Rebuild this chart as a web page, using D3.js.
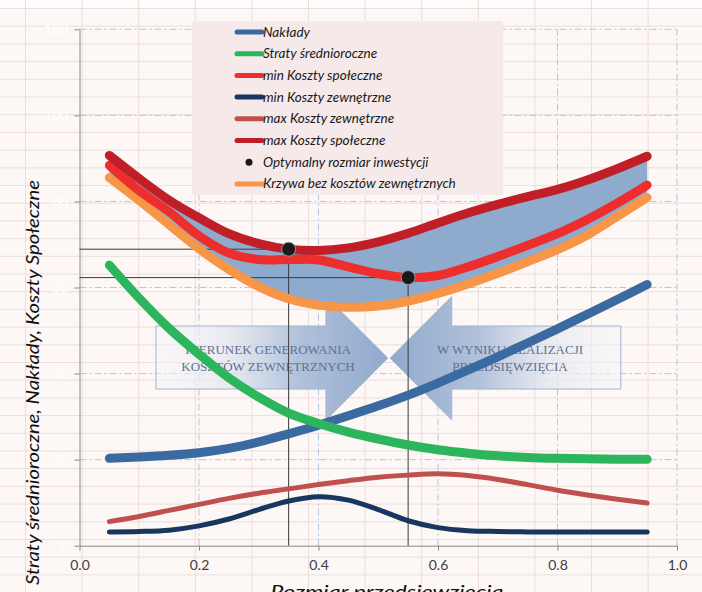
<!DOCTYPE html>
<html>
<head>
<meta charset="utf-8">
<script src="https://cdn.jsdelivr.net/npm/d3@7"></script>
<style>
body{margin:0;background:#fdf7f6;}
svg{display:block;}
</style>
</head>
<body>
<div id="chart"></div>
<script>
// rozmiar przedsiewziecia (x) i serie
var rozmiar=[0.05,0.1,0.15,0.2,0.25,0.3,0.35,0.4,0.45,0.5,0.55,0.6,0.65,0.7,0.75,0.8,0.85,0.9,0.95];
var naklady=[20.3,20.6,21.0,21.6,22.6,24.1,26.0,28.0,30.2,32.5,35.0,37.8,40.8,43.9,47.1,50.4,53.8,57.2,60.7];
var straty=[65.2,57.5,50.5,44.5,39.0,34.5,30.8,28.4,26.4,24.8,23.4,22.3,21.5,20.9,20.5,20.3,20.2,20.1,20.1];
var minSpol=[88.4,82.5,77.6,72.0,68.0,66.5,66.5,66.4,64.8,63.2,62.3,62.8,64.8,67.2,69.8,72.5,75.8,79.6,83.8];
var minZew=[3.2,3.3,3.6,4.6,6.2,8.4,10.4,11.4,10.6,8.4,5.8,4.2,3.5,3.3,3.2,3.2,3.2,3.2,3.2];
var maxZew=[5.6,6.8,8.2,9.6,11.0,12.2,13.2,14.2,15.1,15.9,16.4,16.7,16.3,15.4,14.2,12.9,11.8,10.8,9.9];
var maxSpol=[90.7,85.3,80.3,76.2,72.5,70.2,68.9,68.6,69.2,70.6,72.6,75.0,77.3,79.3,81.1,82.8,85.0,87.6,90.5];
var krzywa=[85.5,80.2,74.6,69.0,64.2,60.2,57.4,55.9,55.4,55.7,56.8,58.6,60.8,63.3,66.0,68.8,72.2,76.5,80.9];
var optX=[0.35,0.55];
var optY=[68.9,62.3];
var xTicks=[0,0.2,0.4,0.6,0.8,1.0];
var yTicks=[0,20,40,60,80,100,120];

var W=702,H=592;
var x=d3.scaleLinear().domain([0,1]).range([79.5,677]);
var y=d3.scaleLinear().domain([0,120]).range([545.7,29.3]);

var svg=d3.select("#chart").append("svg").attr("width",W).attr("height",H);
var defs=svg.append("defs");

// tlo arkusza - siatka komorek
svg.append("rect").attr("width",W).attr("height",H).attr("fill","#fdf7f6");
svg.append("rect").attr("width",W).attr("height",8).attr("fill","#fefcfc");
var g0=svg.append("g").attr("stroke","#eadede").attr("stroke-width",1);
d3.range(25.5,W,56.6).forEach(function(c){
  g0.append("line").attr("x1",c).attr("x2",c).attr("y1",0).attr("y2",H);
});
d3.range(8.5,H,17.7).forEach(function(r){
  g0.append("line").attr("x1",0).attr("x2",W).attr("y1",r).attr("y2",r);
});

// linie siatki wykresu
var grid=svg.append("g").attr("stroke","#b4c6e4").attr("stroke-width",1).attr("stroke-dasharray","7,3,2,3");
grid.selectAll("line.h").data(yTicks.slice(1)).enter().append("line")
  .attr("x1",x(0)).attr("x2",x(1)).attr("y1",function(d){return y(d);}).attr("y2",function(d){return y(d);});
grid.selectAll("line.v").data(xTicks.slice(1)).enter().append("line")
  .attr("y1",y(0)).attr("y2",y(120)).attr("x1",function(d){return x(d);}).attr("x2",function(d){return x(d);});

// strzalki
function gradient(id,rev){
  var lg=defs.append("linearGradient").attr("id",id)
    .attr("x1",rev?"1":"0").attr("x2",rev?"0":"1").attr("y1","0").attr("y2","0");
  lg.append("stop").attr("offset","0").attr("stop-color","#f6f6f9").attr("stop-opacity",0.5);
  lg.append("stop").attr("offset","0.3").attr("stop-color","#e4e8f0").attr("stop-opacity",0.75);
  lg.append("stop").attr("offset","0.62").attr("stop-color","#a8bbd7").attr("stop-opacity",0.9);
  lg.append("stop").attr("offset","1").attr("stop-color","#8aa6cb").attr("stop-opacity",0.95);
}
gradient("gl",false);gradient("gr",true);
function arrowPath(x0,xb,xt,yT,yB,hT,hB,yM){
  return "M"+x(x0)+","+y(yT)+"L"+x(xb)+","+y(yT)+"L"+x(xb)+","+y(hT)+"L"+x(xt)+","+y(yM)+
    "L"+x(xb)+","+y(hB)+"L"+x(xb)+","+y(yB)+"L"+x(x0)+","+y(yB)+"Z";
}
svg.append("path").attr("d",arrowPath(0.128,0.4125,0.516,51.05,36.4,57.9,29.2,43.6))
  .attr("fill","url(#gl)").attr("stroke","#a3b4cf").attr("stroke-width",1);
svg.append("path").attr("d",arrowPath(0.906,0.623,0.52,51.05,36.4,57.9,29.2,43.6))
  .attr("fill","url(#gr)").attr("stroke","#a3b4cf").attr("stroke-width",1);

var at=svg.append("g").attr("font-family","'Liberation Serif',serif").attr("font-size",13)
  .attr("fill","#5f6f94").attr("text-anchor","middle");
at.append("text").attr("x",268).attr("y",354).text("KIERUNEK GENEROWANIA");
at.append("text").attr("x",268).attr("y",371).text("KOSZTÓW ZEWNĘTRZNYCH");
at.append("text").attr("x",510).attr("y",354).text("W WYNIKU REALIZACJI");
at.append("text").attr("x",510).attr("y",371).text("PRZEDSIĘWZIĘCIA");

// osie
var yAxis=svg.append("g").attr("transform","translate("+x(0)+",0)")
  .call(d3.axisLeft(y).tickValues(yTicks).tickSize(5).tickSizeOuter(0).tickFormat(d3.format("d")));
var xAxis=svg.append("g").attr("transform","translate(0,"+y(0)+")")
  .call(d3.axisBottom(x).tickValues(xTicks).tickSize(5).tickSizeOuter(0).tickFormat(d3.format(".1f")));
[yAxis,xAxis].forEach(function(a){
  a.select(".domain").attr("stroke","#8a8a8a");
  a.selectAll(".tick line").attr("stroke","#8a8a8a");
  a.selectAll("text").attr("font-family","Lato,'Open Sans',sans-serif").attr("font-size",14);
});
yAxis.selectAll("text").attr("fill","#ffffff").attr("x",-11);
xAxis.selectAll("text").attr("fill","#404040").attr("dy","1.2em");

// obszar miedzy krzywymi
var idx=d3.range(rozmiar.length);
svg.append("path").datum(idx)
  .attr("d",d3.area().curve(d3.curveCatmullRom)
    .x(function(i){return x(rozmiar[i]);})
    .y0(function(i){return y(krzywa[i]);})
    .y1(function(i){return y(maxSpol[i]);}))
  .attr("fill","#8eaacd");

// linie pomocnicze
var ref=svg.append("g").attr("stroke","#3a3a3a").attr("stroke-width",1);
optX.forEach(function(d,i){
  ref.append("line").attr("x1",x(0)).attr("x2",x(d)).attr("y1",y(optY[i])).attr("y2",y(optY[i]));
  ref.append("line").attr("x1",x(d)).attr("x2",x(d)).attr("y1",y(optY[i])).attr("y2",y(0));
});

// serie
var series=[
  {v:minZew,c:"#17375e",w:5},
  {v:maxZew,c:"#c0504d",w:5},
  {v:naklady,c:"#3b6aa0",w:9},
  {v:straty,c:"#2db55d",w:9},
  {v:krzywa,c:"#f79646",w:9},
  {v:minSpol,c:"#ee2d2d",w:9},
  {v:maxSpol,c:"#c01f28",w:9}
];
var line=d3.line().curve(d3.curveCatmullRom);
series.forEach(function(s){
  svg.append("path")
    .attr("d",line(rozmiar.map(function(d,i){return [x(d),y(s.v[i])];})))
    .attr("fill","none").attr("stroke",s.c).attr("stroke-width",s.w)
    .attr("stroke-linecap","round").attr("stroke-linejoin","round");
});

svg.selectAll("circle.opt").data(optX).enter().append("circle")
  .attr("cx",function(d){return x(d);}).attr("cy",function(d,i){return y(optY[i]);})
  .attr("r",7).attr("fill","#1a1a1a").attr("stroke","#9a9a9a").attr("stroke-width",1);

// legenda
var legNames=["Nakłady","Straty średnioroczne","min Koszty społeczne","min Koszty zewnętrzne",
  "max Koszty zewnętrzne","max Koszty społeczne","Optymalny rozmiar inwestycji","Krzywa bez kosztów zewnętrznych"];
var legColors=["#3b6aa0","#2db55d","#ee2d2d","#17375e","#c0504d","#c01f28","#1a1a1a","#f79646"];
var leg=svg.append("g");
leg.append("rect").attr("x",192).attr("y",21).attr("width",311).attr("height",174).attr("fill","#f5e9e9");
legNames.forEach(function(n,i){
  var yy=32+i*21.7;
  if(i==6){
    leg.append("circle").attr("cx",249).attr("cy",yy).attr("r",3.5).attr("fill",legColors[i]);
  }else{
    leg.append("line").attr("x1",237).attr("x2",262).attr("y1",yy).attr("y2",yy)
      .attr("stroke",legColors[i]).attr("stroke-width",5).attr("stroke-linecap","round");
  }
  leg.append("text").attr("x",263).attr("y",yy+4.5).text(n)
    .attr("font-family","Lato,'Open Sans',sans-serif").attr("font-style","italic")
    .attr("font-size",13.5).attr("fill","#1a1a1a");
});

// tytuly osi
svg.append("text").attr("transform","translate(39,382.5) rotate(-90)").attr("text-anchor","middle")
  .attr("font-family","Lato,'Open Sans',sans-serif").attr("font-style","italic").attr("font-size",17)
  .attr("textLength",405).attr("lengthAdjust","spacingAndGlyphs")
  .attr("fill","#111").text("Straty średnioroczne,  Nakłady, Koszty Społeczne");
svg.append("text").attr("x",387).attr("y",598).attr("text-anchor","middle")
  .attr("font-family","Lato,'Open Sans',sans-serif").attr("font-style","italic").attr("font-size",18)
  .attr("textLength",233).attr("lengthAdjust","spacingAndGlyphs")
  .attr("fill","#111").text("Rozmiar przedsięwzięcia");
</script>
</body>
</html>
